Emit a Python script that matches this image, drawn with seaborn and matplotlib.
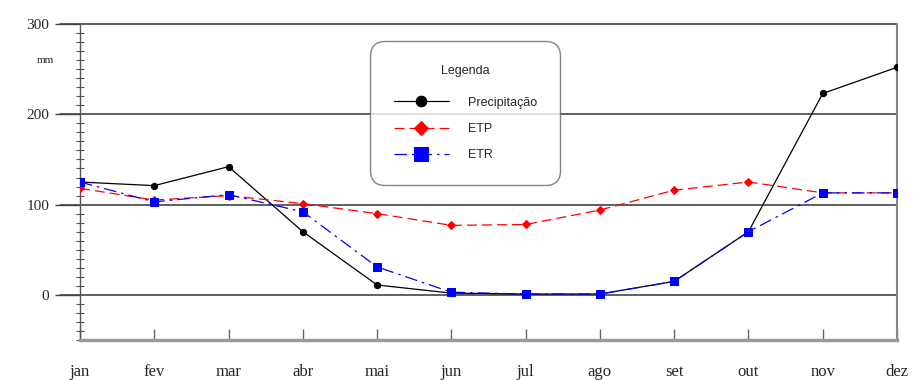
import matplotlib
matplotlib.use("Agg")
import matplotlib.pyplot as plt
import seaborn as sns
import numpy as np
import pandas as pd
from matplotlib.ticker import MultipleLocator

months = ["jan", "fev", "mar", "abr", "mai", "jun", "jul", "ago", "set", "out", "nov", "dez"]
precipitacao = [125, 121, 142, 70, 11, 2, 1, 1, 15, 70, 223, 252]
etp = [118, 105, 110, 101, 90, 77, 78, 94, 116, 125, 113, 113]
etr = [125, 103, 111, 92, 31, 3, 1, 1, 15, 70, 113, 113]
y_ticks = [0, 100, 200, 300]

sns.set_theme(style="white")
plt.rcParams['font.family'] = ['Liberation Serif', 'DejaVu Serif']

fig = plt.figure(figsize=(9.24, 3.8), dpi=100)
ax = fig.add_axes([0.0866, 0.105, 0.8842, 0.832])

x = np.arange(len(months))
df = pd.DataFrame({"mes": x, "Precipitação": precipitacao, "ETP": etp, "ETR": etr})

for yv in y_ticks:
    ax.axhline(yv, color="#444444", lw=1.2, zorder=1, xmin=-0.025, clip_on=False)

sns.lineplot(data=df, x="mes", y="Precipitação", ax=ax, color="black", lw=0.9,
             marker="o", markersize=4.5, markeredgecolor="black", label="Precipitação", zorder=3)
sns.lineplot(data=df, x="mes", y="ETP", ax=ax, color="red", lw=0.9, dashes=(8, 4),
             marker="D", markersize=4, markeredgecolor="red", label="ETP", zorder=3)
sns.lineplot(data=df, x="mes", y="ETR", ax=ax, color="blue", lw=0.9, dashes=(10, 4, 2, 4),
             marker="s", markersize=6, markeredgecolor="blue", label="ETR", zorder=4)

ax.set_xlim(0, 11)
ax.set_ylim(-50, 300)
ax.set_xlabel("")
ax.set_ylabel("")
ax.set_xticks(x)
ax.set_xticklabels(months, fontsize=12)
ax.set_yticks(y_ticks)
ax.set_yticklabels([str(v) for v in y_ticks], fontsize=11)
ax.yaxis.set_minor_locator(MultipleLocator(10))
ax.tick_params(axis="y", which="major", direction="out", length=18, width=1, color="#444444", pad=4, left=True)
ax.tick_params(axis="y", which="minor", direction="inout", length=6, width=0.8, color="#555555", left=True)
ax.tick_params(axis="x", which="major", direction="in", length=8, width=1, color="#666666", pad=17, bottom=True)

ax.spines["top"].set_visible(False)
ax.spines["left"].set_color("#555555")
ax.spines["left"].set_linewidth(1.0)
ax.spines["right"].set_color("#888888")
ax.spines["right"].set_linewidth(1.5)
ax.spines["bottom"].set_color("#999999")
ax.spines["bottom"].set_linewidth(2.5)

fig.text(0.049, 0.84, "mm", fontsize=8, ha="center", va="center", family=['Liberation Serif'])

leg = ax.legend(loc="upper left", bbox_to_anchor=(0.355, 0.945), title="Legenda",
                frameon=True, fancybox=True, handlelength=4.4, handletextpad=1.5,
                borderpad=1.9, borderaxespad=0, labelspacing=1.15, markerscale=1.7,
                prop={"family": "Liberation Sans", "size": 9})
leg.get_title().set_family("Liberation Sans")
leg.get_title().set_fontsize(9)
leg._legend_box.sep = 14
frame = leg.get_frame()
frame.set_edgecolor("#666666")
frame.set_linewidth(1.0)
frame.set_boxstyle("round,pad=0,rounding_size=1.2")
leg.set_zorder(2)

fig.savefig("out.png", dpi=100)
